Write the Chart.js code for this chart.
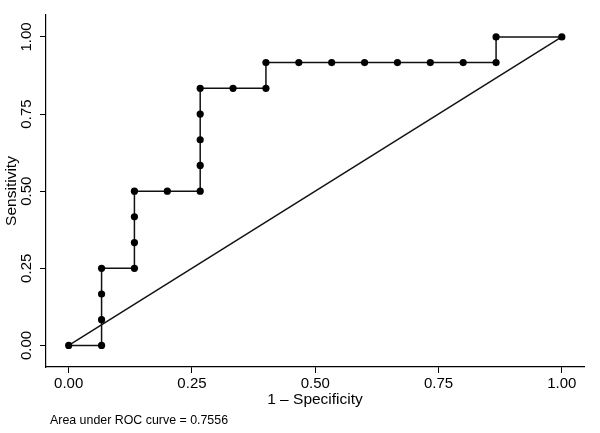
<!DOCTYPE html>
<html lang="en">

<head>
    <meta charset="UTF-8">
    <title>ROC curve</title>
    <script src="https://cdn.jsdelivr.net/npm/chart.js"></script>
    <style>
        body { margin: 0; background: #fff; }
    </style>
</head>

<body>
    <canvas id="rocChart" width="600" height="433"></canvas>
    <script>
        // ROC points (1 - specificity, sensitivity)
        const oneMinusSpec = [0, 0.0667, 0.0667, 0.0667, 0.0667, 0.1333, 0.1333, 0.1333, 0.1333, 0.2, 0.2667,
            0.2667, 0.2667, 0.2667, 0.2667, 0.3333, 0.4, 0.4, 0.4667, 0.5333, 0.6, 0.6667, 0.7333, 0.8,
            0.8667, 0.8667, 1];
        const sensitivity = [0, 0, 0.0833, 0.1667, 0.25, 0.25, 0.3333, 0.4167, 0.5, 0.5, 0.5,
            0.5833, 0.6667, 0.75, 0.8333, 0.8333, 0.8333, 0.9167, 0.9167, 0.9167, 0.9167, 0.9167, 0.9167, 0.9167,
            0.9167, 1, 1];
        // reference line
        const refX = [0, 1];
        const refY = [0, 1];
        const tickValues = [0, 0.25, 0.5, 0.75, 1];
        const tickLabels = ['0.00', '0.25', '0.50', '0.75', '1.00'];
        const aucNote = 'Area under ROC curve = 0.7556';

        const fontFamily = '"Liberation Sans", Arial, Helvetica, sans-serif';

        // rotated y tick labels + footnote
        const extraText = {
            id: 'extraText',
            afterDraw(chart) {
                const ctx = chart.ctx;
                const y = chart.scales.y;
                ctx.save();
                ctx.fillStyle = '#000';
                ctx.font = '15px ' + fontFamily;
                ctx.textAlign = 'center';
                ctx.textBaseline = 'middle';
                tickValues.forEach((v, i) => {
                    ctx.save();
                    ctx.translate(27, y.getPixelForValue(v));
                    ctx.rotate(-Math.PI / 2);
                    ctx.fillText(tickLabels[i], 0, 0);
                    ctx.restore();
                });
                ctx.font = '12.4px ' + fontFamily;
                ctx.textAlign = 'left';
                ctx.fillText(aucNote, 50, 421);
                ctx.restore();
            }
        };

        function fixedTicks(scale) {
            scale.ticks = tickValues.map(v => ({ value: v }));
        }

        new Chart(document.getElementById('rocChart'), {
            type: 'scatter',
            data: {
                datasets: [{
                    data: oneMinusSpec.map((x, i) => ({ x: x, y: sensitivity[i] })),
                    showLine: true,
                    borderColor: '#111',
                    borderWidth: 1.5,
                    pointRadius: 3.6,
                    pointBackgroundColor: '#000',
                    pointBorderColor: '#000',
                    pointBorderWidth: 0
                }, {
                    data: refX.map((x, i) => ({ x: x, y: refY[i] })),
                    showLine: true,
                    borderColor: '#111',
                    borderWidth: 1.5,
                    pointRadius: 0
                }]
            },
            options: {
                responsive: false,
                animation: false,
                layout: { padding: { top: 15, right: 16, bottom: 24, left: 0 } },
                plugins: {
                    legend: { display: false },
                    tooltip: { enabled: false }
                },
                scales: {
                    x: {
                        type: 'linear',
                        min: -0.046,
                        max: 1.045,
                        afterBuildTicks: fixedTicks,
                        afterFit: s => { s.height = 42; },
                        grid: { drawOnChartArea: false, tickLength: 6, tickColor: '#000', tickWidth: 1 },
                        border: { color: '#000', width: 1.2 },
                        ticks: {
                            color: '#000',
                            padding: 2,
                            maxRotation: 0,
                            font: { family: fontFamily, size: 15 },
                            callback: v => tickLabels[tickValues.indexOf(v)]
                        },
                        title: {
                            display: true,
                            text: '1 – Specificity',
                            color: '#000',
                            padding: 0,
                            font: { family: fontFamily, size: 15.5 }
                        }
                    },
                    y: {
                        type: 'linear',
                        min: -0.07,
                        max: 1.071,
                        afterBuildTicks: fixedTicks,
                        afterFit: s => { s.width = 46; },
                        grid: { drawOnChartArea: false, tickLength: 6, tickColor: '#000', tickWidth: 1 },
                        border: { color: '#000', width: 1.2 },
                        ticks: { display: false },
                        title: {
                            display: true,
                            text: 'Sensitivity',
                            color: '#000',
                            padding: { top: 2, bottom: 0 },
                            font: { family: fontFamily, size: 15.5 }
                        }
                    }
                }
            },
            plugins: [extraText]
        });
    </script>
</body>

</html>
